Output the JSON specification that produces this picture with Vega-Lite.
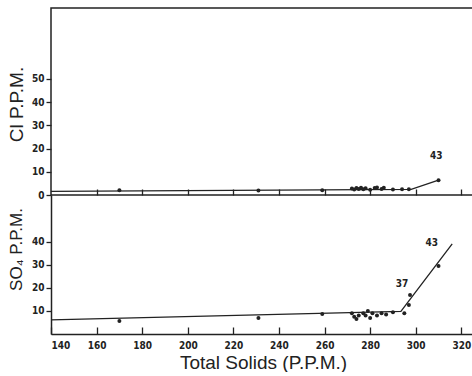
{
  "$schema": "https://vega.github.io/schema/vega-lite/v6.json",
  "padding": {"left": 6, "top": 7, "right": 0, "bottom": 0},
  "spacing": 0,
  "bounds": "flush",
  "background": "white",
  "config": {
    "view": {"stroke": null},
    "font": "Liberation Sans",
    "axis": {
      "grid": false,
      "domainColor": "#222",
      "domainWidth": 1.5,
      "tickColor": "#222",
      "tickWidth": 1.3,
      "labelOverlap": false,
      "labelFont": "DejaVu Sans Condensed",
      "labelFontWeight": "bold",
      "labelFontSize": 10,
      "labelColor": "#222",
      "titleFont": "Liberation Sans",
      "titleFontWeight": "normal",
      "titleFontSize": 19,
      "titleColor": "#222"
    }
  },
  "datasets": {
    "cl_pts": [
      {"ts": 170, "v": 2.0}, {"ts": 231, "v": 1.9}, {"ts": 259, "v": 2.0},
      {"ts": 272, "v": 2.8}, {"ts": 273, "v": 2.4}, {"ts": 274, "v": 3.0},
      {"ts": 275, "v": 2.6}, {"ts": 276, "v": 3.1}, {"ts": 277, "v": 2.5},
      {"ts": 278, "v": 2.9}, {"ts": 280, "v": 2.3}, {"ts": 282, "v": 3.0},
      {"ts": 283, "v": 3.2}, {"ts": 285, "v": 2.6}, {"ts": 286, "v": 3.1},
      {"ts": 290, "v": 2.4}, {"ts": 294, "v": 2.5}, {"ts": 297, "v": 2.5},
      {"ts": 310, "v": 6.4}
    ],
    "cl_fit": [
      {"ts": 140, "v": 1.6}, {"ts": 298, "v": 2.4}, {"ts": 310, "v": 6.4}
    ],
    "so4_pts": [
      {"ts": 170, "v": 5.6}, {"ts": 231, "v": 7.0}, {"ts": 259, "v": 8.7},
      {"ts": 272, "v": 9.0}, {"ts": 273, "v": 7.5}, {"ts": 274, "v": 6.5},
      {"ts": 275, "v": 8.0}, {"ts": 277, "v": 9.0}, {"ts": 278, "v": 8.0},
      {"ts": 279, "v": 10.0}, {"ts": 280, "v": 7.0}, {"ts": 281, "v": 9.0},
      {"ts": 283, "v": 8.0}, {"ts": 285, "v": 9.0}, {"ts": 287, "v": 8.5},
      {"ts": 290, "v": 9.5}, {"ts": 295, "v": 9.0}, {"ts": 297, "v": 12.6},
      {"ts": 297.5, "v": 17.0}, {"ts": 310, "v": 29.6}
    ],
    "so4_fit": [
      {"ts": 140, "v": 6.1}, {"ts": 293.5, "v": 9.8}, {"ts": 316, "v": 39.2}
    ],
    "cl_lab": [{"ts": 309, "v": 16.8, "t": "43"}],
    "so4_lab": [{"ts": 307, "v": 39.5, "t": "43"}, {"ts": 294, "v": 21.7, "t": "37"}]
  },
  "vconcat": [
    {
      "width": 424,
      "height": 187,
      "view": {"stroke": "#222", "strokeWidth": 1.5},
      "layer": [
        {
          "data": {"name": "cl_fit"},
          "mark": {"type": "line", "color": "#222", "strokeWidth": 1.3},
          "encoding": {
            "x": {"field": "ts", "type": "quantitative", "scale": {"domain": [140, 326], "nice": false},
                  "axis": {"values": [160, 180, 200, 220, 240, 260, 280, 300, 320], "tickCount": 20, "labels": false, "title": null, "domain": false, "tickSize": -6}},
            "y": {"field": "v", "type": "quantitative", "scale": {"domain": [0, 80.6], "nice": false},
                  "axis": {"values": [0, 10, 20, 30, 40, 50], "tickCount": 20, "domain": false, "tickSize": 5, "labelPadding": 2, "title": "Cl P.P.M.", "titlePadding": 5, "titleY": 96}}
          }
        },
        {
          "data": {"name": "cl_pts"},
          "mark": {"type": "circle", "color": "#222", "size": 16, "opacity": 1},
          "encoding": {
            "x": {"field": "ts", "type": "quantitative"},
            "y": {"field": "v", "type": "quantitative"}
          }
        },
        {
          "data": {"name": "cl_lab"},
          "mark": {"type": "text", "color": "#222", "fontSize": 10, "fontWeight": "bold", "font": "DejaVu Sans Condensed"},
          "encoding": {
            "x": {"field": "ts", "type": "quantitative"},
            "y": {"field": "v", "type": "quantitative"},
            "text": {"field": "t"}
          }
        }
      ]
    },
    {
      "width": 424,
      "height": 139,
      "layer": [
        {
          "data": {"name": "so4_fit"},
          "mark": {"type": "line", "color": "#222", "strokeWidth": 1.3},
          "encoding": {
            "x": {"field": "ts", "type": "quantitative", "scale": {"domain": [140, 326], "nice": false},
                  "axis": {"values": [140, 160, 180, 200, 220, 240, 260, 280, 300, 320], "tickCount": 20, "tickSize": -7, "labelPadding": 13, "title": "Total Solids (P.P.M.)", "titlePadding": 3}},
            "y": {"field": "v", "type": "quantitative", "scale": {"domain": [0, 60.4], "nice": false},
                  "axis": {"values": [10, 20, 30, 40], "tickCount": 20, "tickSize": 5, "labelPadding": 2, "title": "SO₄ P.P.M.", "titleFontSize": 17, "titlePadding": 6, "titleY": 54}}
          }
        },
        {
          "data": {"name": "so4_pts"},
          "mark": {"type": "circle", "color": "#222", "size": 16, "opacity": 1},
          "encoding": {
            "x": {"field": "ts", "type": "quantitative"},
            "y": {"field": "v", "type": "quantitative"}
          }
        },
        {
          "data": {"name": "so4_lab"},
          "mark": {"type": "text", "color": "#222", "fontSize": 10, "fontWeight": "bold", "font": "DejaVu Sans Condensed"},
          "encoding": {
            "x": {"field": "ts", "type": "quantitative"},
            "y": {"field": "v", "type": "quantitative"},
            "text": {"field": "t"}
          }
        }
      ]
    }
  ]
}
